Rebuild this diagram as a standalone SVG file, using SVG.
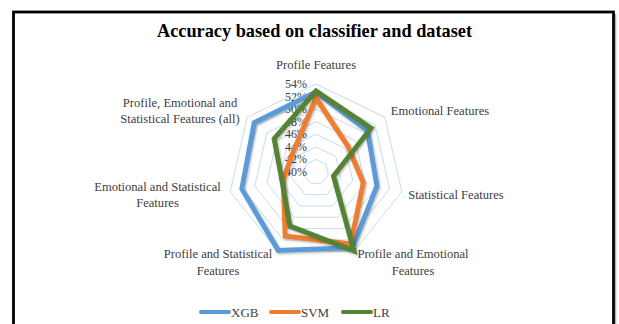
<svg xmlns="http://www.w3.org/2000/svg" width="619" height="324" viewBox="0 0 619 324">
<style>
.lbl{font-family:"Liberation Serif","Times New Roman",serif;font-size:12.6px;fill:#404040;text-anchor:middle}
.tick{font-family:"Liberation Serif","Times New Roman",serif;font-size:12px;fill:#404040;text-anchor:end;dominant-baseline:central}
.leg{font-family:"Liberation Serif","Times New Roman",serif;font-size:13px;fill:#404040}
.ring{fill:none;stroke:#c6dcf1;stroke-width:1}
.ser{fill:none;stroke-width:5;stroke-linejoin:miter;stroke-miterlimit:4;filter:url(#sh)}
</style>
<defs>
<filter id="sh" x="-10%" y="-10%" width="120%" height="120%">
<feDropShadow dx="1" dy="1.2" stdDeviation="1" flood-color="#000" flood-opacity="0.3"/>
</filter>
</defs>
<rect x="0" y="0" width="619" height="324" fill="#fff"/>
<line x1="615.5" y1="14" x2="615.5" y2="324" stroke="#b0b0b0" stroke-width="1.5"/>
<rect x="13.5" y="12" width="600" height="330" fill="#fff" stroke="#000" stroke-width="2.8"/>
<text x="314.5" y="37" style="font-family:'Liberation Serif','Times New Roman',serif;font-size:18.3px;font-weight:bold;fill:#000;text-anchor:middle">Accuracy based on classifier  and dataset</text>
<g id="grid">
<polygon class="ring" points="316,159.43 325.83,164.16 328.26,174.8 321.45,183.33 310.55,183.33 303.74,174.8 306.17,164.16"/>
<polygon class="ring" points="316,146.86 335.66,156.32 340.51,177.59 326.91,194.65 305.09,194.65 291.49,177.59 296.34,156.32"/>
<polygon class="ring" points="316,134.29 345.49,148.49 352.77,180.39 332.36,205.98 299.64,205.98 279.23,180.39 286.51,148.49"/>
<polygon class="ring" points="316,121.71 355.31,140.65 365.03,183.19 337.82,217.31 294.18,217.31 266.97,183.19 276.69,140.65"/>
<polygon class="ring" points="316,109.14 365.14,132.81 377.28,185.99 343.27,228.63 288.73,228.63 254.72,185.99 266.86,132.81"/>
<polygon class="ring" points="316,96.57 374.97,124.97 389.54,188.78 348.73,239.96 283.27,239.96 242.46,188.78 257.03,124.97"/>
<polygon class="ring" points="316,84 384.8,117.13 401.79,191.58 354.18,251.29 277.82,251.29 230.21,191.58 247.2,117.13"/>
</g>
<g id="ticks">
<text class="tick" x="307" y="84">54%</text>
<text class="tick" x="307" y="96.6">52%</text>
<text class="tick" x="307" y="109.1">50%</text>
<text class="tick" x="307" y="121.7">48%</text>
<text class="tick" x="307" y="134.3">46%</text>
<text class="tick" x="307" y="146.9">44%</text>
<text class="tick" x="307" y="159.4">42%</text>
<text class="tick" x="307" y="172">40%</text>
</g>
<g id="axis-labels">
<text class="lbl" x="316" y="69">Profile Features</text>
<text class="lbl" x="440" y="114.5">Emotional Features</text>
<text class="lbl" x="456" y="199">Statistical Features</text>
<text class="lbl" x="413" y="258">Profile and Emotional</text>
<text class="lbl" x="413" y="275">Features</text>
<text class="lbl" x="218" y="258">Profile and Statistical</text>
<text class="lbl" x="218" y="275">Features</text>
<text class="lbl" x="157.5" y="191">Emotional and Statistical</text>
<text class="lbl" x="157.5" y="207">Features</text>
<text class="lbl" x="180" y="107">Profile, Emotional and</text>
<text class="lbl" x="180" y="123">Statistical Features (all)</text>
</g>
<g id="series">
<polygon id="xgb" class="ser" stroke="#5b9bd5" points="316,92 367.6,130.85 376.93,185.91 352.45,247.68 278.25,250.38 241.91,188.91 254.24,122.74"/>
<polygon id="svm" class="ser" stroke="#ed7d31" points="316,98 348.06,146.44 363.28,182.79 350.71,244.08 285.19,235.97 283.34,179.45 292.55,153.3"/>
<polygon id="lr" class="ser" stroke="#548235" points="316,91 370.96,128.17 333.55,176.01 353.96,250.83 289.97,226.06 281.88,179.79 274.17,138.64"/>
</g>
<g id="legend">
<line x1="201" y1="312" x2="229" y2="312" stroke="#5b9bd5" stroke-width="4" stroke-linecap="round"/>
<text class="leg" x="231" y="316.5">XGB</text>
<line x1="271" y1="312" x2="299" y2="312" stroke="#ed7d31" stroke-width="4" stroke-linecap="round"/>
<text class="leg" x="301" y="316.5">SVM</text>
<line x1="343" y1="312" x2="371" y2="312" stroke="#548235" stroke-width="4" stroke-linecap="round"/>
<text class="leg" x="373" y="316.5">LR</text>
</g>
</svg>
